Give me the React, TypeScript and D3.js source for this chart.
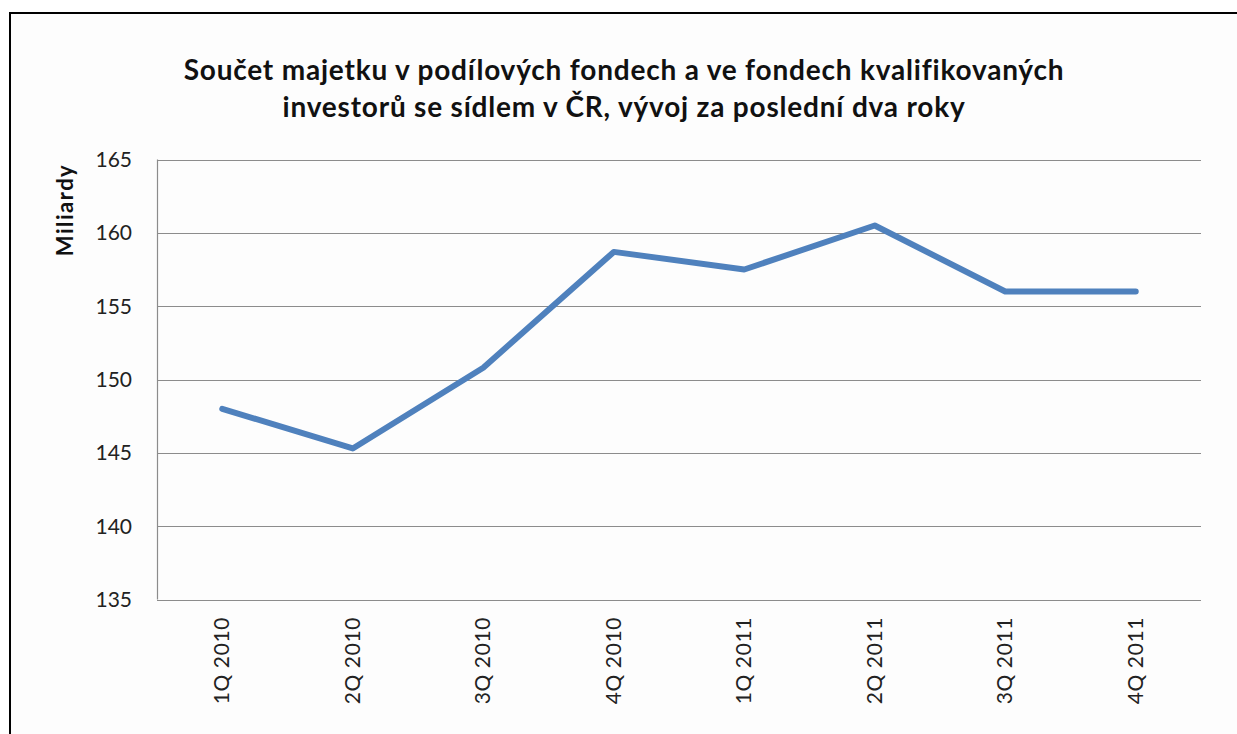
import React, { useEffect, useRef } from "react";
import * as d3 from "d3";

const categories = ["1Q 2010", "2Q 2010", "3Q 2010", "4Q 2010", "1Q 2011", "2Q 2011", "3Q 2011", "4Q 2011"];
const values = [148.0, 145.3, 150.8, 158.7, 157.5, 160.5, 156.0, 156.0];
const yTicks = [135, 140, 145, 150, 155, 160, 165];
const titleLines = [
  "Součet majetku v podílových fondech a ve fondech kvalifikovaných",
  "investorů se sídlem v ČR, vývoj za poslední dva roky",
];
const yLabel = "Miliardy";

const W = 1237;
const H = 734;
const FONT = "Lato, 'Open Sans', sans-serif";

export default function App() {
  const ref = useRef<SVGSVGElement>(null);
  useEffect(() => {
    const svg = d3.select(ref.current);
    svg.selectAll("*").remove();
    const left = 157, right = 1201, top = 159.5, bottom = 599.5;
    const x = d3.scaleBand<string>().domain(categories).range([left, right]);
    const y = d3.scaleLinear().domain([135, 165]).range([bottom, top]);

    svg.append("rect").attr("x", 0).attr("y", 0).attr("width", W).attr("height", H).attr("fill", "#fff");
    svg.append("rect").attr("x", 10).attr("y", 13).attr("width", W + 20).attr("height", H + 20)
      .attr("fill", "#fdfdfd").attr("stroke", "#000").attr("stroke-width", 2);

    const tg = svg.append("g");
    titleLines.forEach((t, i) => {
      tg.append("text").attr("x", 624).attr("y", 80 + i * 37).attr("text-anchor", "middle")
        .attr("font-family", FONT).attr("font-weight", "bold").attr("font-size", 28)
        .attr("letter-spacing", 0.8).attr("fill", "#111")
        .text(t);
    });

    // gridlines
    svg.append("g").selectAll("line").data(yTicks).join("line")
      .attr("x1", left).attr("x2", right)
      .attr("y1", (d) => Math.round(y(d)) + 0.5).attr("y2", (d) => Math.round(y(d)) + 0.5)
      .attr("stroke", "#8c8c8c").attr("stroke-width", 1.2);
    svg.append("line").attr("x1", left + 0.5).attr("x2", left + 0.5).attr("y1", top).attr("y2", bottom)
      .attr("stroke", "#8c8c8c").attr("stroke-width", 1.2);

    svg.append("g").selectAll("text").data(yTicks).join("text")
      .attr("x", 132).attr("y", (d) => y(d)).attr("dy", "0.36em").attr("text-anchor", "end")
      .attr("font-family", FONT).attr("font-size", 21).attr("fill", "#222")
      .text((d) => String(d));

    svg.append("text").attr("transform", `translate(73,210) rotate(-90)`).attr("text-anchor", "middle")
      .attr("font-family", FONT).attr("font-weight", "bold").attr("font-size", 22)
      .attr("letter-spacing", 1.5).attr("fill", "#111")
      .text(yLabel);

    svg.append("g").selectAll("text").data(categories).join("text")
      .attr("transform", (d) => `translate(${(x(d) as number) + x.bandwidth() / 2 + 7},617) rotate(-90)`)
      .attr("text-anchor", "end")
      .attr("font-family", FONT).attr("font-size", 21).attr("letter-spacing", 0.6).attr("fill", "#222")
      .text((d) => d);

    const line = d3.line<number>()
      .x((_, i) => (x(categories[i]) as number) + x.bandwidth() / 2)
      .y((d) => y(d));
    svg.append("path").datum(values).attr("d", line).attr("fill", "none")
      .attr("stroke", "#4f81bd").attr("stroke-width", 6).attr("stroke-linejoin", "round").attr("stroke-linecap", "round");
  }, []);
  return <svg ref={ref} width={W} height={H} style={{ position: "absolute", left: 0, top: 0 }} />;
}
